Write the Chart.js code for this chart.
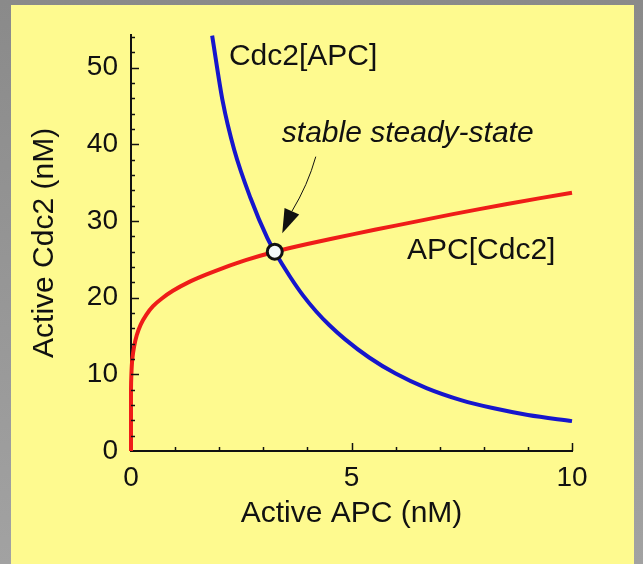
<!DOCTYPE html>
<html>
<head>
<meta charset="utf-8">
<script src="https://cdn.jsdelivr.net/npm/chart.js@4.4.1/dist/chart.umd.min.js"></script>
<style>
  html, body { margin: 0; padding: 0; }
  body {
    width: 643px; height: 564px; overflow: hidden; position: relative;
    background: linear-gradient(#8a8a8a, #a2a2a2);
  }
  #panel {
    position: absolute; left: 11px; top: 5px; width: 623px; height: 559px;
    background: #fefa8f;
  }
</style>
</head>
<body>
<div id="panel"><canvas id="nullcline-chart" width="623" height="559"></canvas></div>
<script>
// APC[Cdc2] nullcline (red)
const redApc  = [0, 0, 0.01, 0.03, 0.07, 0.13, 0.22, 0.35, 0.5, 0.7, 0.95, 1.3, 1.7, 2.1, 2.6, 3.26, 4, 5.05, 6, 7.3, 8.5, 10];
const redCdc2 = [0, 8, 10.2, 12, 13.6, 15.1, 16.5, 17.8, 18.9, 19.9, 20.9, 22, 23, 23.9, 24.9, 26, 27, 28.3, 29.4, 30.9, 32.2, 33.7];

// Cdc2[APC] nullcline (blue)
const blueApc  = [1.84, 2.08, 2.34, 2.71, 3.09, 3.26, 3.6, 3.9, 4.2, 4.5, 4.85, 5.4, 6, 6.7, 7.5, 8.2, 9, 10];
const blueCdc2 = [54.2, 45.6, 39.3, 33, 27.8, 26, 22.8, 20.3, 18.2, 16.4, 14.6, 12.2, 10.1, 8.2, 6.6, 5.6, 4.7, 3.9];

// stable steady state
const steadyApc = [3.26];
const steadyCdc2 = [26];

const xTickLabels = [0, 5, 10];
const yTickLabels = [0, 10, 20, 30, 40, 50];

const FONT = '"Liberation Sans", Arial, Helvetica, sans-serif';
const INK = '#111111';

function toPoints(xs, ys) {
    return xs.map((v, i) => ({ x: v, y: ys[i] }));
}

// Ticks vers l'intérieur + annotations du schéma
const figurePlugin = {
    id: 'figureExtras',
    afterDraw(chart) {
        const { ctx, scales: { x, y } } = chart;
        ctx.save();
        ctx.strokeStyle = INK;
        ctx.lineWidth = 1.5;

        const x0 = x.getPixelForValue(0);
        const y0 = y.getPixelForValue(0);
        for (let v = 2; v <= 54; v += 2) {
            const py = Math.round(y.getPixelForValue(v)) + 0.5;
            const len = v % 10 === 0 ? 8 : 4;
            ctx.beginPath();
            ctx.moveTo(x0, py);
            ctx.lineTo(x0 + len, py);
            ctx.stroke();
        }
        for (let v = 1; v <= 10; v += 1) {
            const px = Math.round(x.getPixelForValue(v)) + 0.5;
            const len = v % 5 === 0 ? 8 : 4;
            ctx.beginPath();
            ctx.moveTo(px, y0);
            ctx.lineTo(px, y0 - len);
            ctx.stroke();
        }

        // étiquettes des courbes
        ctx.fillStyle = INK;
        ctx.textBaseline = 'middle';
        ctx.textAlign = 'left';
        ctx.font = '30px ' + FONT;
        ctx.fillText('Cdc2[APC]', x.getPixelForValue(2.22), y.getPixelForValue(51.4));
        ctx.fillText('APC[Cdc2]', x.getPixelForValue(6.26), y.getPixelForValue(26.1));
        ctx.font = 'italic 30px ' + FONT;
        ctx.fillText('stable steady-state', x.getPixelForValue(3.42), y.getPixelForValue(41.4));

        // flèche vers le point stable
        const tx = x.getPixelForValue(4.19), ty = y.getPixelForValue(38.4);
        const hx = x.getPixelForValue(3.43), hy = y.getPixelForValue(28.4);
        const dx = hx - tx, dy = hy - ty;
        const d = Math.hypot(dx, dy);
        const ux = dx / d, uy = dy / d;
        const headLen = 24, headHalf = 8;
        const bx = hx - ux * headLen, by = hy - uy * headLen;
        ctx.lineWidth = 1;
        ctx.beginPath();
        ctx.moveTo(tx, ty);
        ctx.quadraticCurveTo((tx + bx) / 2 + 4, (ty + by) / 2 + 1, bx, by);
        ctx.stroke();
        ctx.beginPath();
        ctx.moveTo(hx, hy);
        ctx.lineTo(bx - uy * headHalf, by + ux * headHalf);
        ctx.lineTo(bx + uy * headHalf, by - ux * headHalf);
        ctx.closePath();
        ctx.fill();
        ctx.restore();
    }
};

new Chart(document.getElementById('nullcline-chart'), {
    type: 'line',
    data: {
        datasets: [
            {
                label: 'stable steady-state',
                type: 'scatter',
                data: toPoints(steadyApc, steadyCdc2),
                pointRadius: 7.5,
                pointBorderWidth: 3,
                pointBorderColor: INK,
                pointBackgroundColor: '#f4f8fa',
                clip: false
            },
            {
                label: 'Cdc2[APC]',
                data: toPoints(blueApc, blueCdc2),
                borderColor: '#1616cc',
                borderWidth: 4,
                pointRadius: 0,
                cubicInterpolationMode: 'monotone',
                clip: false
            },
            {
                label: 'APC[Cdc2]',
                data: toPoints(redApc, redCdc2),
                borderColor: '#ef1c18',
                borderWidth: 4,
                pointRadius: 0,
                tension: 0.3,
                clip: false
            }
        ]
    },
    options: {
        responsive: false,
        animation: false,
        layout: { padding: { left: 0, top: 28, right: 62, bottom: 0 } },
        plugins: {
            legend: { display: false },
            tooltip: { enabled: false }
        },
        scales: {
            x: {
                type: 'linear',
                min: 0,
                max: 10,
                afterFit: scale => { scale.height = 113; },
                afterBuildTicks: scale => { scale.ticks = xTickLabels.map(v => ({ value: v })); },
                grid: { display: false, drawTicks: false },
                border: { display: true, color: INK, width: 2 },
                ticks: {
                    color: INK,
                    padding: 10,
                    maxRotation: 0,
                    font: { family: FONT, size: 28 }
                },
                title: {
                    display: true,
                    text: 'Active APC (nM)',
                    color: INK,
                    padding: { top: 0, bottom: 35 },
                    font: { family: FONT, size: 30, lineHeight: 1 }
                }
            },
            y: {
                type: 'linear',
                min: 0,
                max: 54.3,
                afterFit: scale => { scale.width = 120; },
                afterBuildTicks: scale => { scale.ticks = yTickLabels.map(v => ({ value: v })); },
                grid: { display: false, drawTicks: false },
                border: { display: true, color: INK, width: 2 },
                ticks: {
                    color: INK,
                    padding: 13,
                    font: { family: FONT, size: 28 }
                },
                title: {
                    display: true,
                    text: 'Active Cdc2 (nM)',
                    color: INK,
                    padding: { top: 19, bottom: 0 },
                    font: { family: FONT, size: 30, lineHeight: 1 }
                }
            }
        }
    },
    plugins: [figurePlugin]
});
</script>
</body>
</html>
